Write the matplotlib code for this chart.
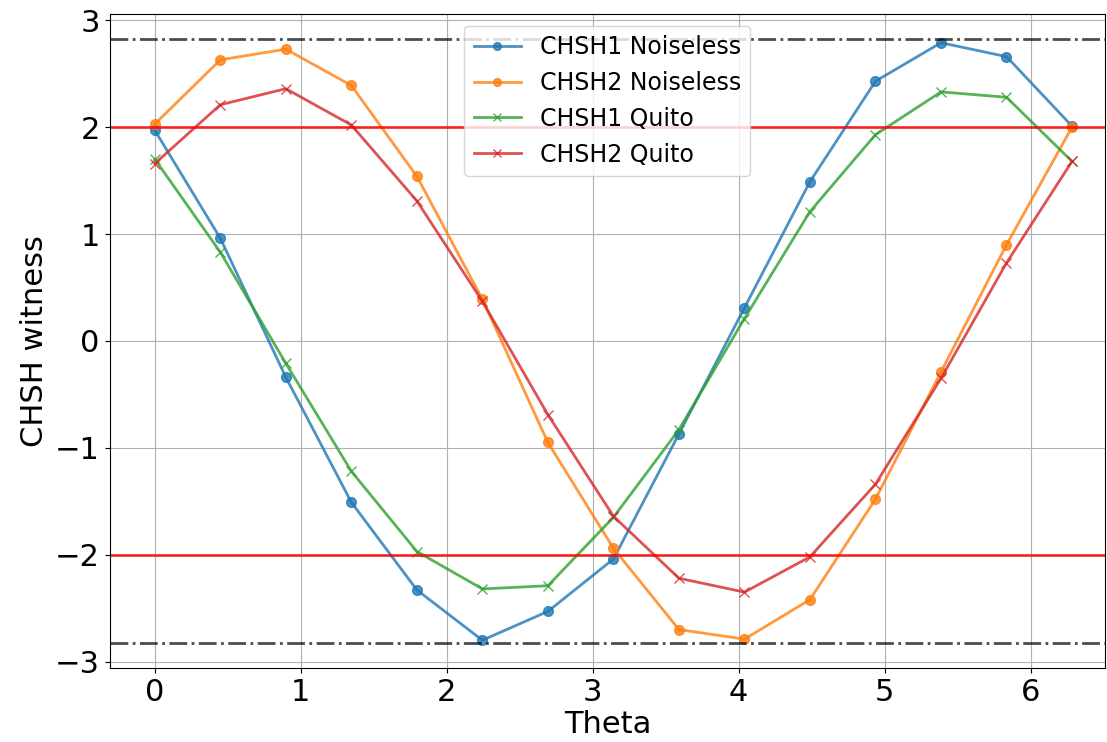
import numpy as np
import matplotlib
matplotlib.use('Agg')
from matplotlib import pyplot as plt

# theta samples, 15 points from 0 to 2pi
theta = np.linspace(0, 2 * np.pi, 15)

# values
chsh1_noiseless = [1.97, 0.96, -0.34, -1.51, -2.33, -2.80, -2.53, -2.04, -0.87, 0.31, 1.49, 2.43, 2.79, 2.66, 2.01]
chsh2_noiseless = [2.03, 2.63, 2.73, 2.39, 1.54, 0.39, -0.95, -1.94, -2.70, -2.79, -2.42, -1.48, -0.29, 0.90, 2.00]
chsh1_quito = [1.70, 0.83, -0.21, -1.22, -1.97, -2.32, -2.29, -1.65, -0.83, 0.21, 1.21, 1.93, 2.33, 2.28, 1.68]
chsh2_quito = [1.66, 2.21, 2.36, 2.02, 1.31, 0.37, -0.69, -1.64, -2.22, -2.35, -2.02, -1.34, -0.35, 0.73, 1.68]

classical_bound = 2
quantum_bound = 2 * np.sqrt(2)

fig = plt.figure(figsize=(11.07, 7.42), dpi=100)
ax = fig.add_axes([0.099, 0.0997, 0.8993, 0.8816])

ax.plot(theta, chsh1_noiseless, 'o-', color='C0', lw=2, ms=7, alpha=0.8, label='CHSH1 Noiseless')
ax.plot(theta, chsh2_noiseless, 'o-', color='C1', lw=2, ms=7, alpha=0.8, label='CHSH2 Noiseless')
ax.plot(theta, chsh1_quito, 'x-', color='C2', lw=2, ms=7, alpha=0.8, label='CHSH1 Quito')
ax.plot(theta, chsh2_quito, 'x-', color='C3', lw=2, ms=7, alpha=0.8, label='CHSH2 Quito')

# bounds
ax.axhline(classical_bound, color='red', lw=2, alpha=0.8)
ax.axhline(-classical_bound, color='red', lw=2, alpha=0.8)
ax.axhline(quantum_bound, color='k', ls='-.', lw=2, alpha=0.7)
ax.axhline(-quantum_bound, color='k', ls='-.', lw=2, alpha=0.7)

ax.set_xlim(-0.31, 6.51)
ax.set_ylim(-3.06, 3.06)
ax.grid(True)
ax.tick_params(labelsize=22)
ax.set_xlabel('Theta', fontsize=22, labelpad=2)
ax.set_ylabel('CHSH witness', fontsize=22)
ax.legend(loc='upper center', fontsize=17, markerscale=0.8)

plt.savefig('out.png', dpi=100)
